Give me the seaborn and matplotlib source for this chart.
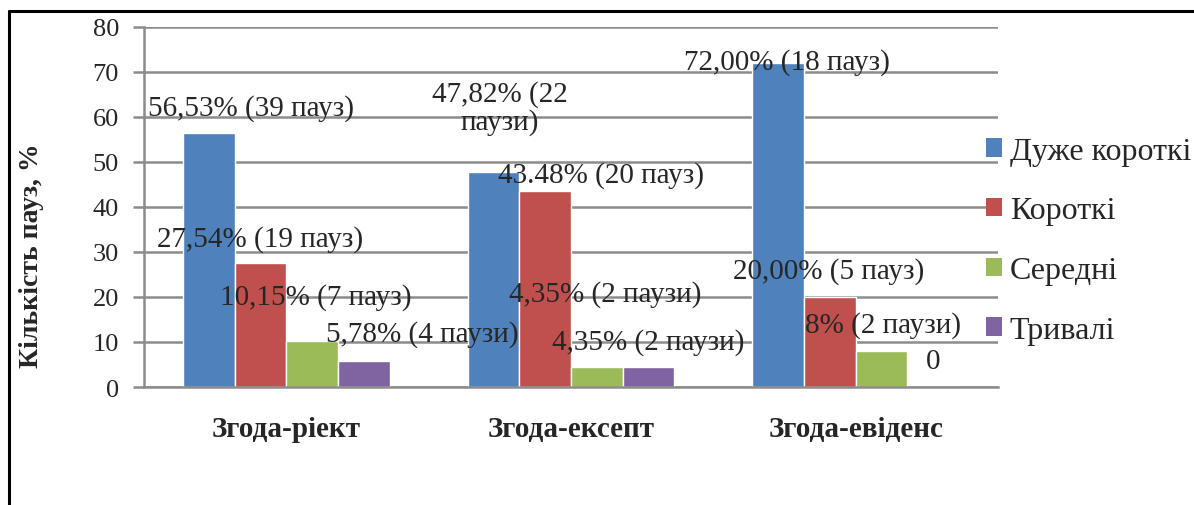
import matplotlib
matplotlib.use("Agg")
import matplotlib.pyplot as plt
from matplotlib.lines import Line2D
from matplotlib.patches import Patch
import seaborn as sns
import pandas as pd

# Categories and series
categories = ["Згода-ріект", "Згода-ексепт", "Згода-евіденс"]
series = ["Дуже короткі", "Короткі", "Середні", "Тривалі"]
very_short = [56.53, 47.82, 72.00]
short = [27.54, 43.48, 20.00]
medium = [10.15, 4.35, 8.00]
long_ = [5.78, 4.35, 0.00]

# Value labels, in the same order as the bars (series-major)
label_texts = [
    "56,53% (39 пауз)", "47,82% (22\nпаузи)", "72,00% (18 пауз)",
    "27,54% (19 пауз)", "43.48% (20 пауз)", "20,00% (5 пауз)",
    "10,15% (7 пауз)", "4,35% (2 паузи)", "8% (2 паузи)",
    "5,78% (4 паузи)", "4,35% (2 паузи)", "0",
]
# Label anchor points (category axis units, value axis units)
label_pos = [
    (-0.124, 62.2), (0.751, 62.2), (1.759, 72.4),
    (-0.093, 32.9), (1.105, 47.3), (1.906, 25.8),
    (0.104, 20.0), (1.119, 20.7), (2.096, 13.8),
    (0.477, 11.8), (1.270, 10.0), (2.272, 5.8),
]

colors = ["#4F81BD", "#C0504D", "#9BBB59", "#8064A2"]

values = [very_short, short, medium, long_]
df = pd.DataFrame({
    "category": [c for _ in series for c in categories],
    "series": [s for s in series for _ in categories],
    "value": [v for vals in values for v in vals],
})

sns.set_style("white")
plt.rcParams["font.family"] = ["Liberation Serif", "DejaVu Serif"]

fig = plt.figure(figsize=(11.94, 5.06), dpi=100)
ax = fig.add_axes([0.1206, 0.2332, 0.7152, 0.7115])

sns.barplot(data=df, x="category", y="value", hue="series", order=categories,
            hue_order=series, palette=colors, width=0.727, gap=0,
            saturation=1, errorbar=None, ax=ax, legend=False, zorder=2)

ax.set_ylim(0, 80)
ax.set_xlim(-0.5, 2.5)
ax.set_yticks(range(0, 81, 10))
ax.yaxis.grid(True, color="#8c8c8c", linewidth=1.8, zorder=0)
ax.set_axisbelow(True)
for side in ["top", "right"]:
    ax.spines[side].set_visible(False)
ax.spines["left"].set_color("#8c8c8c")
ax.spines["left"].set_linewidth(1.8)
ax.spines["bottom"].set_color("#8c8c8c")
ax.spines["bottom"].set_linewidth(1.8)
ax.tick_params(axis="y", length=8, width=1.8, color="#8c8c8c",
               labelsize=19, pad=10, left=True)
ax.tick_params(axis="x", length=0, labelsize=21, pad=20)
for t in ax.get_xticklabels():
    t.set_fontweight("bold")
ax.set_xlabel("")
ax.set_ylabel("")

fig.text(0.026, 0.495, "Кількість пауз, %", rotation=90, ha="center",
         va="center", fontsize=20, fontweight="bold")

for txt, (x, y) in zip(label_texts, label_pos):
    ax.text(x, y, txt, ha="center", va="center", fontsize=21,
            linespacing=1.05, zorder=3)

handles = [Patch(facecolor=c, edgecolor="none") for c in colors]
fig.legend(handles, series, loc="upper left", bbox_to_anchor=(0.815, 0.753),
           frameon=False, fontsize=23, handlelength=0.5, handleheight=0.5,
           handletextpad=0.25, labelspacing=0.96, borderaxespad=0)

# Outer frame
fig.add_artist(Line2D([0.0075, 1.0], [0.976, 0.976], color="black", lw=2.2,
                      transform=fig.transFigure))
fig.add_artist(Line2D([0.0075, 0.0075], [0.0, 0.976], color="black", lw=2.2,
                      transform=fig.transFigure))

fig.savefig("out.png", dpi=100)
